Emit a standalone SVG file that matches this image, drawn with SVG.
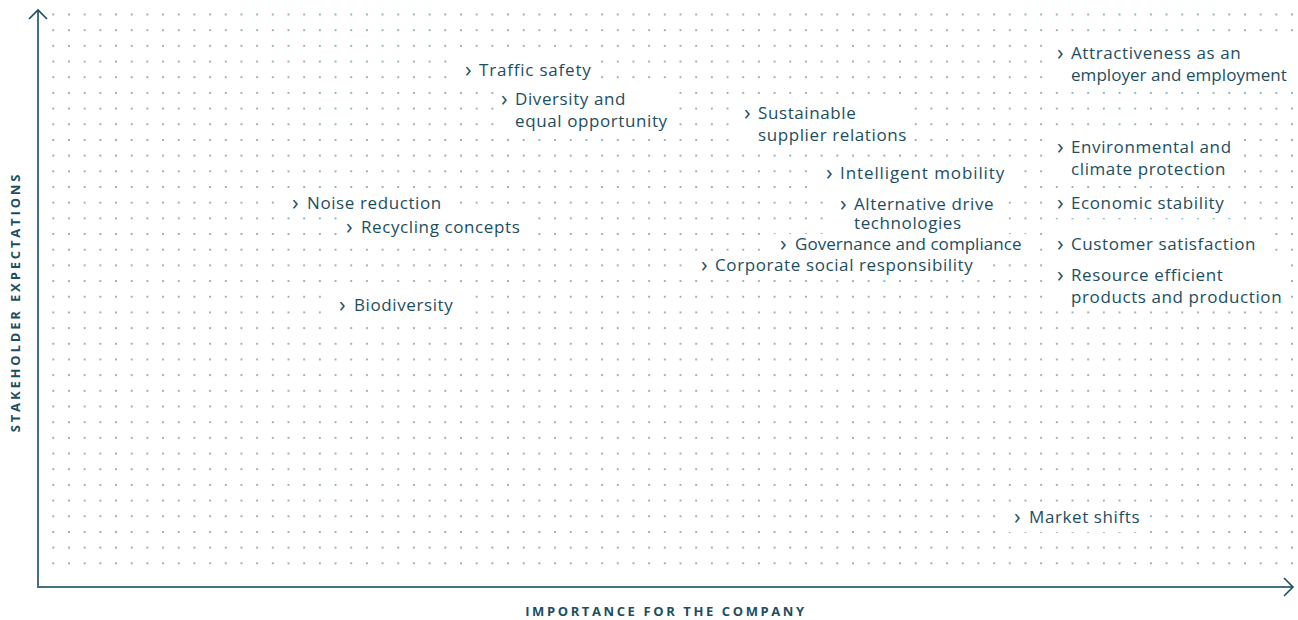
<svg xmlns="http://www.w3.org/2000/svg" width="1298" height="620" viewBox="0 0 1298 620">
<defs>
<pattern id="dots" patternUnits="userSpaceOnUse" x="45.46" y="6.66" width="15.68" height="15.68">
<circle cx="7.84" cy="7.84" r="1" fill="#6a9fb3"/>
</pattern>
<style>
.lbl{font-family:"Open Sans","Noto Sans",sans-serif;font-size:17px;fill:#1d4e5f;letter-spacing:0.6px}
.mk{font-family:"Open Sans","Noto Sans",sans-serif;font-size:22px;fill:#1d4e5f}
.bg{fill:#ffffff}
.ax{font-family:"Open Sans","Noto Sans",sans-serif;font-size:13px;font-weight:bold;fill:#1d4e5f;letter-spacing:2.6px}
.axis{fill:none;stroke:#44707f;stroke-width:2}
.head{fill:none;stroke:#1d4e5f;stroke-width:1.6}
</style>
</defs>
<rect width="1298" height="620" fill="#ffffff"/>
<rect x="46" y="7" width="1252" height="564" fill="url(#dots)"/>

<g id="axes">
<path class="axis" d="M38,10 L38,587 L1292,587"/>
<path class="head" d="M29,19 L38,10 L47,19"/>
<path class="head" d="M1284,578 L1293,587 L1284,596"/>
<text class="ax" transform="translate(20,302) rotate(-90)" text-anchor="middle" style="letter-spacing:2.85px">STAKEHOLDER EXPECTATIONS</text>
<text class="ax" x="666" y="616" text-anchor="middle">IMPORTANCE FOR THE COMPANY</text>
</g>

<g id="traffic-safety">
<rect class="bg" x="459" y="58" width="140" height="26"/>
<text class="mk" x="465" y="77">›</text>
<text class="lbl" x="479" y="76" style="letter-spacing:0.8px">Traffic safety</text>
</g>
<g id="diversity">
<rect class="bg" x="495" y="88" width="182" height="46"/>
<text class="mk" x="501" y="106">›</text>
<text class="lbl" x="515" y="105">Diversity and</text>
<text class="lbl" x="515" y="127">equal opportunity</text>
</g>
<g id="sustainable-supplier">
<rect class="bg" x="738" y="102" width="176" height="46"/>
<text class="mk" x="744" y="120">›</text>
<text class="lbl" x="758" y="119">Sustainable</text>
<text class="lbl" x="758" y="141">supplier relations</text>
</g>
<g id="attractiveness">
<rect class="bg" x="1050" y="42" width="244" height="46"/>
<text class="mk" x="1057" y="60">›</text>
<text class="lbl" x="1071" y="59">Attractiveness as an</text>
<text class="lbl" x="1071" y="81" style="letter-spacing:0.05px">employer and employment</text>
</g>
<g id="environmental">
<rect class="bg" x="1050" y="136" width="185" height="46"/>
<text class="mk" x="1057" y="154">›</text>
<text class="lbl" x="1071" y="153">Environmental and</text>
<text class="lbl" x="1071" y="175">climate protection</text>
</g>
<g id="economic-stability">
<rect class="bg" x="1050" y="192" width="184" height="26"/>
<text class="mk" x="1057" y="210">›</text>
<text class="lbl" x="1071" y="209">Economic stability</text>
</g>
<g id="customer-satisfaction">
<rect class="bg" x="1050" y="233" width="215" height="26"/>
<text class="mk" x="1057" y="251">›</text>
<text class="lbl" x="1071" y="250">Customer satisfaction</text>
</g>
<g id="resource-efficient">
<rect class="bg" x="1050" y="264" width="237" height="46"/>
<text class="mk" x="1057" y="282">›</text>
<text class="lbl" x="1071" y="281">Resource efficient</text>
<text class="lbl" x="1071" y="303">products and production</text>
</g>
<g id="intelligent-mobility">
<rect class="bg" x="819" y="162" width="193" height="26"/>
<text class="mk" x="826" y="180">›</text>
<text class="lbl" x="840" y="179" style="letter-spacing:0.9px">Intelligent mobility</text>
</g>
<g id="alternative-drive">
<rect class="bg" x="833" y="193" width="171" height="41"/>
<text class="mk" x="840" y="211">›</text>
<text class="lbl" x="854" y="210">Alternative drive</text>
<text class="lbl" x="854" y="229">technologies</text>
</g>
<g id="governance">
<rect class="bg" x="773" y="234" width="255" height="22"/>
<text class="mk" x="780" y="251">›</text>
<text class="lbl" x="795" y="250" style="letter-spacing:0.05px">Governance and compliance</text>
</g>
<g id="csr">
<rect class="bg" x="694" y="256" width="286" height="22"/>
<text class="mk" x="701" y="272">›</text>
<text class="lbl" x="715" y="271">Corporate social responsibility</text>
</g>
<g id="noise-reduction">
<rect class="bg" x="286" y="192" width="164" height="24"/>
<text class="mk" x="292" y="210">›</text>
<text class="lbl" x="307" y="209">Noise reduction</text>
</g>
<g id="recycling">
<rect class="bg" x="340" y="216" width="188" height="26"/>
<text class="mk" x="346" y="234">›</text>
<text class="lbl" x="361" y="233">Recycling concepts</text>
</g>
<g id="biodiversity">
<rect class="bg" x="333" y="294" width="130" height="26"/>
<text class="mk" x="339" y="312">›</text>
<text class="lbl" x="354" y="311">Biodiversity</text>
</g>
<g id="market-shifts">
<rect class="bg" x="1007" y="506" width="141" height="26"/>
<text class="mk" x="1014" y="524">›</text>
<text class="lbl" x="1029" y="523">Market shifts</text>
</g>
</svg>
